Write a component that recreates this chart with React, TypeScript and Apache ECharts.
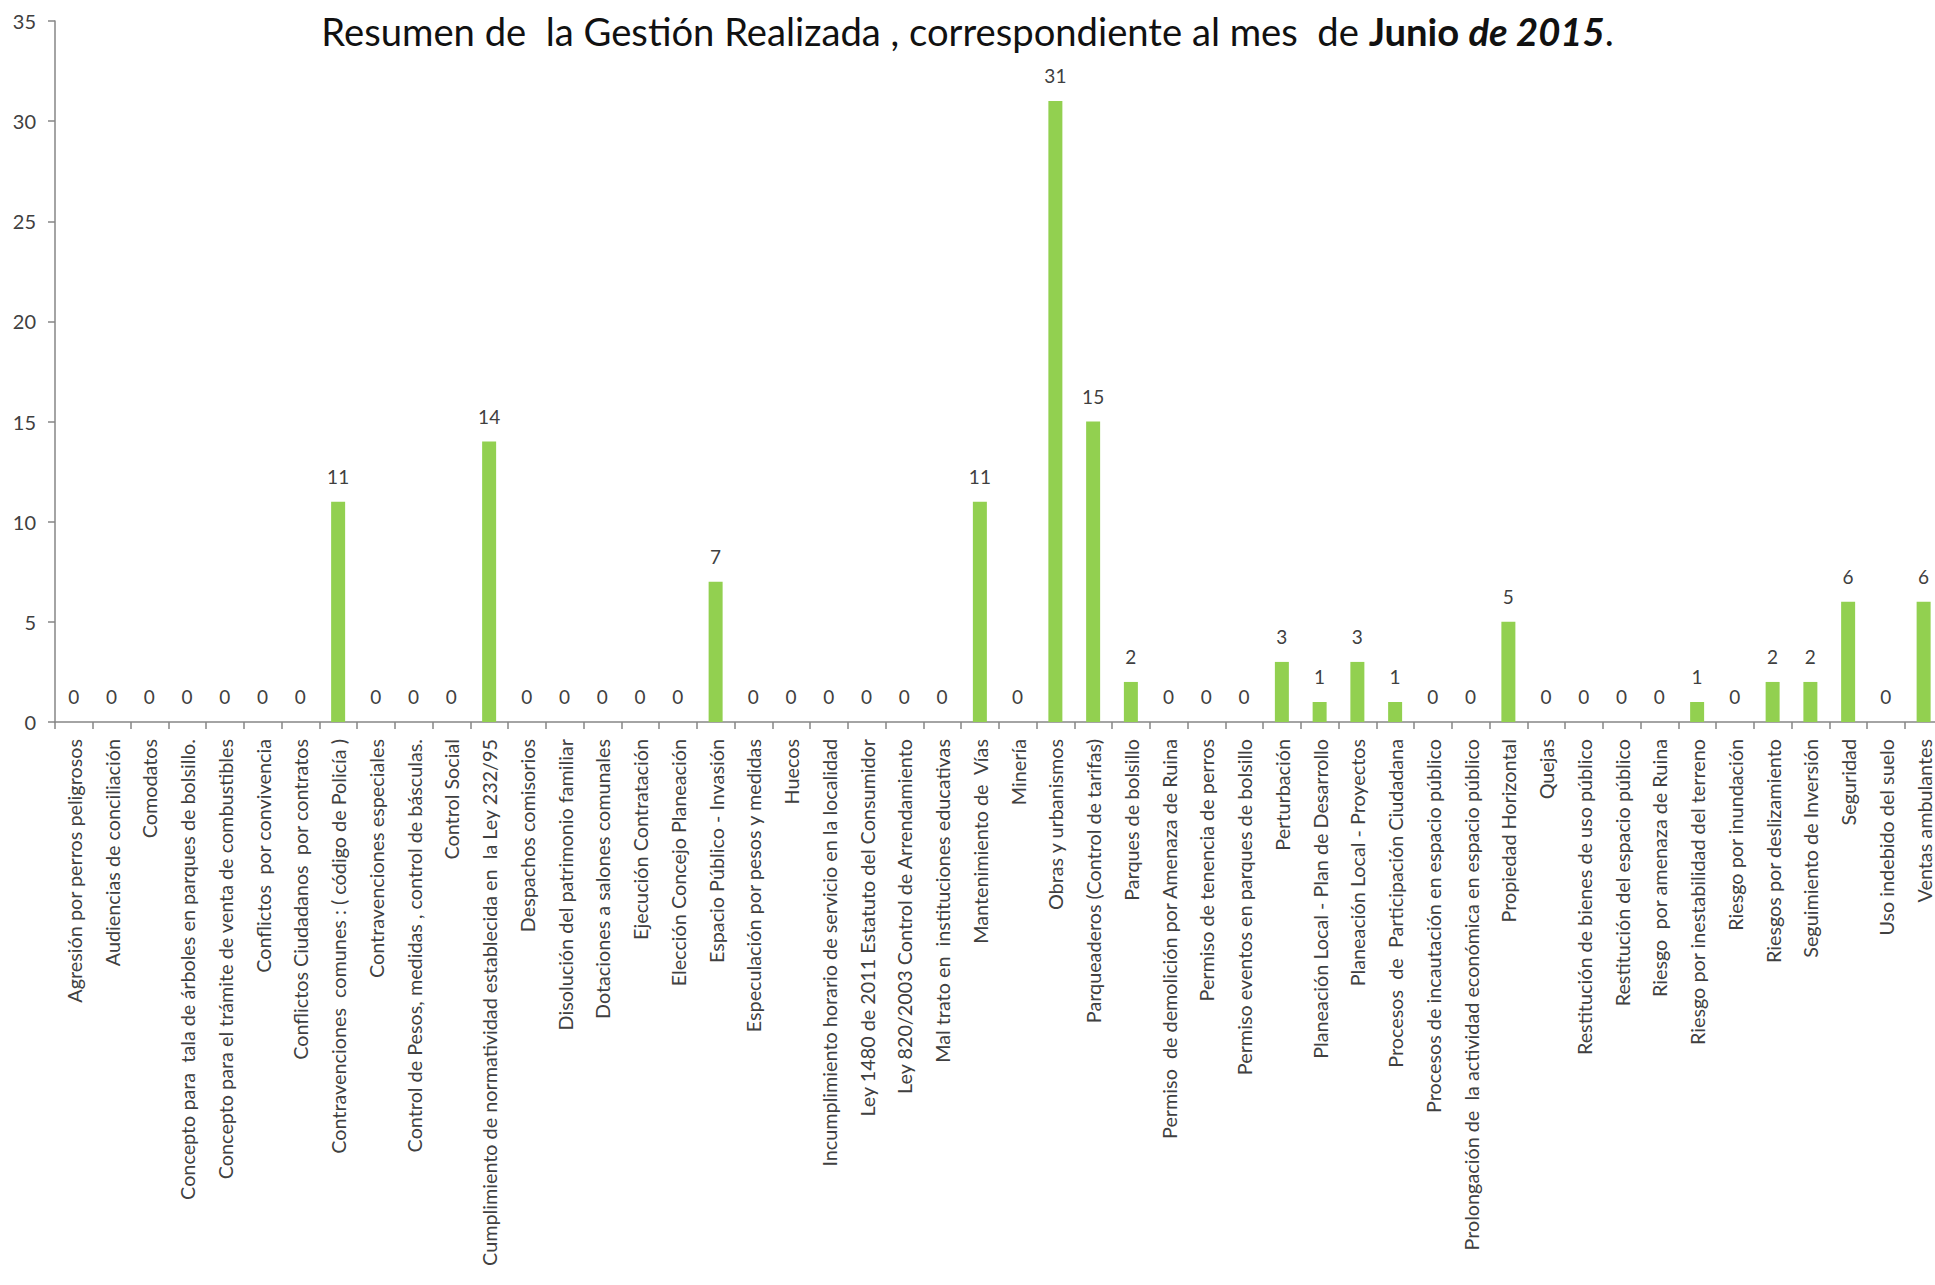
import React, { useEffect, useRef } from "react";
import * as echarts from "echarts";

const categories: string[] = [
  "Agresión por perros peligrosos",
  "Audiencias de conciliación",
  "Comodatos",
  "Concepto para  tala de árboles en parques de bolsillo.",
  "Concepto para el trámite de venta de combustibles",
  "Conflictos  por convivencia",
  "Conflictos Ciudadanos  por contratos",
  "Contravenciones  comunes : ( código de Policía )",
  "Contravenciones especiales",
  "Control de Pesos, medidas , control de básculas.",
  "Control Social",
  "Cumplimiento de normatividad establecida en  la Ley 232/95",
  "Despachos comisorios",
  "Disolución del patrimonio familiar",
  "Dotaciones a salones comunales",
  "Ejecución Contratación",
  "Elección Concejo Planeación",
  "Espacio Público - Invasión",
  "Especulación por pesos y medidas",
  "Huecos",
  "Incumplimiento horario de servicio en la localidad",
  "Ley 1480 de 2011 Estatuto del Consumidor",
  "Ley 820/2003 Control de Arrendamiento",
  "Mal trato en  instituciones educativas",
  "Mantenimiento de  Vías",
  "Minería",
  "Obras y urbanismos",
  "Parqueaderos (Control de tarifas)",
  "Parques de bolsillo",
  "Permiso  de demolición por Amenaza de Ruina",
  "Permiso de tenencia de perros",
  "Permiso eventos en parques de bolsillo",
  "Perturbación",
  "Planeación Local - Plan de Desarrollo",
  "Planeación Local - Proyectos",
  "Procesos  de  Participación Ciudadana",
  "Procesos de incautación en espacio público",
  "Prolongación de  la actividad económica en espacio público",
  "Propiedad Horizontal",
  "Quejas",
  "Restitución de bienes de uso público",
  "Restitución del espacio público",
  "Riesgo  por amenaza de Ruina",
  "Riesgo por inestabilidad del terreno",
  "Riesgo por inundación",
  "Riesgos por deslizamiento",
  "Seguimiento de Inversión",
  "Seguridad",
  "Uso indebido del suelo",
  "Ventas ambulantes",
];

const values: number[] = [
  0, 0, 0, 0, 0, 0, 0, 11, 0, 0,
  0, 14, 0, 0, 0, 0, 0, 7, 0, 0,
  0, 0, 0, 0, 11, 0, 31, 15, 2, 0,
  0, 0, 3, 1, 3, 1, 0, 0, 5, 0,
  0, 0, 0, 1, 0, 2, 2, 6, 0, 6,
];

const yTicks = { min: 0, max: 35, interval: 5 };

const FONT = "Lato, 'Open Sans', sans-serif";
const TITLE_SIZE = 38.2;

export default function App() {
  const ref = useRef<HTMLDivElement>(null);
  useEffect(() => {
    if (!ref.current) return;
    const chart = echarts.init(ref.current, undefined, { renderer: "svg" });
    chart.setOption({
      animation: false,
      backgroundColor: "#ffffff",
      textStyle: { fontFamily: FONT },
      title: {
        left: "center",
        top: 7,
        text: "{n|Resumen de  la Gestión Realizada , correspondiente al mes  de }{b|Junio }{bi|de 2015}{n|.}",
        textStyle: {
          fontWeight: "normal",
          fontSize: TITLE_SIZE,
          fontFamily: FONT,
          rich: {
            n: { fontSize: TITLE_SIZE, color: "#111111", fontWeight: "normal", fontFamily: FONT },
            b: { fontSize: TITLE_SIZE, color: "#111111", fontWeight: "bold", fontFamily: FONT },
            bi: { fontSize: TITLE_SIZE, color: "#111111", fontWeight: "bold", fontStyle: "italic", fontFamily: FONT },
          },
        },
      },
      grid: {
        left: 55,
        top: 21,
        width: 1887.5,
        height: 701,
        containLabel: false,
        outerBoundsMode: "none",
      },
      xAxis: {
        type: "category",
        data: categories,
        axisLine: { show: true, lineStyle: { color: "#868686", width: 1.5 } },
        axisTick: { show: true, length: 7, interval: 0, lineStyle: { color: "#868686", width: 1.5 } },
        axisLabel: {
          interval: 0,
          rotate: 90,
          fontSize: 19.8,
          color: "#404040",
          margin: 17,
          fontFamily: FONT,
        },
      },
      yAxis: {
        type: "value",
        min: yTicks.min,
        max: yTicks.max,
        interval: yTicks.interval,
        splitLine: { show: false },
        axisLine: { show: true, lineStyle: { color: "#868686", width: 1.5 } },
        axisTick: { show: true, length: 7, lineStyle: { color: "#868686", width: 1.5 } },
        axisLabel: { fontSize: 20, color: "#404040", margin: 19, fontFamily: FONT },
      },
      series: [
        {
          type: "bar",
          data: values,
          barWidth: 14,
          itemStyle: { color: "#92D050" },
          label: {
            show: true,
            position: "top",
            distance: 16,
            fontSize: 19,
            color: "#404040",
            fontFamily: FONT,
          },
        },
      ],
    });
    return () => chart.dispose();
  }, []);
  return (
    <div
      ref={ref}
      style={{ position: "fixed", left: 0, top: 0, width: 1935, height: 1285, background: "#fff" }}
    />
  );
}
